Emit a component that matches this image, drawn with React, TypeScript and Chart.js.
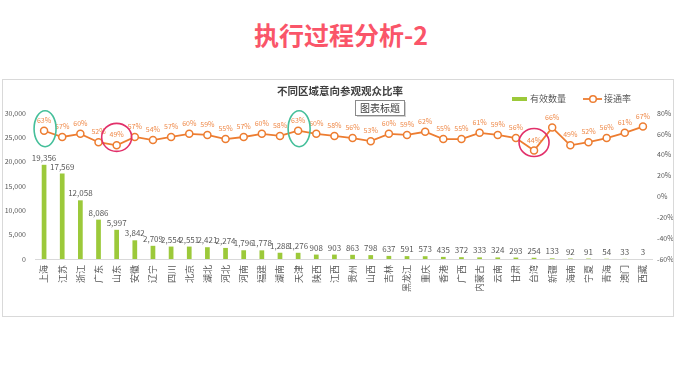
import React, { useEffect, useRef } from "react";
import { Chart, registerables } from "chart.js";

Chart.register(...registerables);

const categories = [
  "上海", "江苏", "浙江", "广东", "山东", "安徽", "辽宁", "四川", "北京", "湖北",
  "河北", "河南", "福建", "湖南", "天津", "陕西", "江西", "贵州", "山西", "吉林",
  "黑龙江", "重庆", "香港", "广西", "内蒙古", "云南", "甘肃", "台湾", "新疆", "海南",
  "宁夏", "青海", "澳门", "西藏",
];

const validCounts = [
  19356, 17569, 12058, 8086, 5997, 3842, 2709, 2554, 2551, 2421,
  2274, 1796, 1778, 1288, 1276, 908, 903, 863, 798, 637,
  591, 573, 435, 372, 333, 324, 293, 254, 133, 92,
  91, 54, 33, 3,
];

const connectRates = [
  63, 57, 60, 52, 49, 57, 54, 57, 60, 59,
  55, 57, 60, 58, 63, 60, 58, 56, 53, 60,
  59, 62, 55, 55, 61, 59, 56, 44, 66, 49,
  52, 56, 61, 67,
];

const seriesNames = ["有效数量", "接通率"];
const pageTitle = "执行过程分析-2";
const chartTitle = "不同区域意向参观观众比率";
const tooltipText = "图表标题";

// highlighted points (index into categories)
const greenMarks = [0, 14];
const pinkMarks = [4, 27];

const FONT = '"Noto Sans CJK SC", "Noto Sans", sans-serif';
const GREEN = "#9CC93A";
const ORANGE = "#ED7D31";
const GREY = "#595959";

const overlayPlugin = {
  id: "overlay",
  afterDatasetsDraw(chart: any) {
    const ctx = chart.ctx as CanvasRenderingContext2D;
    ctx.save();
    // bar value labels
    const barMeta = chart.getDatasetMeta(0);
    ctx.font = `8px ${FONT}`;
    ctx.fillStyle = GREY;
    ctx.textAlign = "center";
    ctx.textBaseline = "bottom";
    barMeta.data.forEach((el: any, i: number) => {
      ctx.fillText(validCounts[i].toLocaleString("en-US"), el.x, el.y - 3);
    });
    // line value labels
    const lineMeta = chart.getDatasetMeta(1);
    ctx.font = `7px ${FONT}`;
    ctx.fillStyle = "#EF8A4A";
    lineMeta.data.forEach((el: any, i: number) => {
      ctx.fillText(connectRates[i] + "%", el.x, el.y - 7);
    });
    // ellipses
    ctx.lineWidth = 1.6;
    ctx.strokeStyle = "#45BF9A";
    greenMarks.forEach((i) => {
      const el = lineMeta.data[i];
      ctx.beginPath();
      ctx.ellipse(el.x + 1, el.y - 2, 11, 18, 0, 0, Math.PI * 2);
      ctx.stroke();
    });
    ctx.strokeStyle = "#E2306A";
    pinkMarks.forEach((i) => {
      const el = lineMeta.data[i];
      ctx.beginPath();
      ctx.ellipse(el.x, el.y - 8, 15, 14, 0, 0, Math.PI * 2);
      ctx.stroke();
    });
    ctx.restore();
  },
  afterDraw(chart: any) {
    const ctx = chart.ctx as CanvasRenderingContext2D;
    ctx.save();
    // chart title
    ctx.font = `bold 10.5px ${FONT}`;
    ctx.fillStyle = "#404040";
    ctx.textAlign = "center";
    ctx.textBaseline = "middle";
    ctx.fillText(chartTitle, 337, 11);
    // tooltip-like box
    const bx = 352, by = 20, bw = 49, bh = 15;
    ctx.fillStyle = "rgba(0,0,0,0.18)";
    ctx.fillRect(bx + 2, by + 2, bw, bh);
    ctx.fillStyle = "#ffffff";
    ctx.fillRect(bx, by, bw, bh);
    ctx.strokeStyle = "#8a8a8a";
    ctx.lineWidth = 1;
    ctx.strokeRect(bx + 0.5, by + 0.5, bw, bh);
    ctx.fillStyle = "#404040";
    ctx.font = `10px ${FONT}`;
    ctx.fillText(tooltipText, bx + bw / 2 + 0.5, by + bh / 2 + 0.5);
    // legend
    ctx.font = `9px ${FONT}`;
    ctx.textAlign = "left";
    ctx.fillStyle = GREEN;
    ctx.fillRect(509, 17, 15, 4);
    ctx.fillStyle = GREY;
    ctx.fillText(seriesNames[0], 527, 19);
    ctx.strokeStyle = ORANGE;
    ctx.lineWidth = 1.8;
    ctx.beginPath();
    ctx.moveTo(580, 19);
    ctx.lineTo(599, 19);
    ctx.stroke();
    ctx.beginPath();
    ctx.arc(590, 19, 3.3, 0, Math.PI * 2);
    ctx.fillStyle = "#ffffff";
    ctx.fill();
    ctx.lineWidth = 1.5;
    ctx.stroke();
    ctx.fillStyle = GREY;
    ctx.fillText(seriesNames[1], 601, 19);
    ctx.restore();
  },
};

function ChartBox() {
  const ref = useRef<HTMLCanvasElement | null>(null);
  useEffect(() => {
    if (!ref.current) return;
    const chart = new Chart(ref.current, {
      type: "bar",
      data: {
        labels: categories,
        datasets: [
          {
            type: "bar",
            label: seriesNames[0],
            data: validCounts,
            backgroundColor: GREEN,
            yAxisID: "y",
            barPercentage: 0.26,
            categoryPercentage: 1,
            order: 2,
          },
          {
            type: "line",
            label: seriesNames[1],
            data: connectRates,
            borderColor: ORANGE,
            borderWidth: 1.8,
            pointRadius: 3.5,
            pointBorderWidth: 1.5,
            pointBackgroundColor: "#ffffff",
            pointBorderColor: ORANGE,
            yAxisID: "y1",
            order: 1,
            tension: 0,
          } as any,
        ],
      },
      options: {
        responsive: false,
        animation: false,
        devicePixelRatio: 1,
        layout: { padding: { top: 33, left: 0, right: 0, bottom: 0 } },
        plugins: {
          legend: { display: false },
          tooltip: { enabled: false },
          title: { display: false },
        },
        scales: {
          x: {
            grid: { display: false, drawTicks: false },
            border: { display: true, color: "#D9D9D9" },
            ticks: {
              autoSkip: false,
              minRotation: 90,
              maxRotation: 90,
              padding: 6,
              color: GREY,
              font: { family: FONT, size: 9 },
            },
            afterFit: (s: any) => {
              s.height = 57;
            },
          },
          y: {
            position: "left",
            min: 0,
            max: 30000,
            grid: { display: false, drawTicks: false },
            border: { display: false },
            ticks: {
              stepSize: 5000,
              padding: 9,
              color: GREY,
              font: { family: FONT, size: 7 },
              callback: (v: any) => Number(v).toLocaleString("en-US"),
            },
            afterFit: (s: any) => {
              s.width = 32;
            },
          },
          y1: {
            position: "right",
            min: -60,
            max: 80,
            grid: { display: false, drawTicks: false },
            border: { display: false },
            ticks: {
              stepSize: 20,
              padding: 5,
              color: GREY,
              font: { family: FONT, size: 7 },
              callback: (v: any) => v + "%",
            },
            afterFit: (s: any) => {
              s.width = 21;
            },
          },
        },
      },
      plugins: [overlayPlugin],
    });
    return () => chart.destroy();
  }, []);
  return <canvas ref={ref} width={670} height={236} style={{ display: "block" }} />;
}

export default function App() {
  return (
    <div
      style={{
        position: "absolute",
        left: 0,
        top: 0,
        width: 680,
        height: 376,
        background: "#ffffff",
        overflow: "hidden",
      }}
    >
      <div
        style={{
          position: "absolute",
          left: 0,
          top: 17,
          width: 682,
          textAlign: "center",
          fontFamily: FONT,
          fontWeight: 700,
          fontSize: 25,
          lineHeight: "34px",
          color: "#FA5569",
        }}
      >
        {pageTitle}
      </div>
      <div
        style={{
          position: "absolute",
          left: 2,
          top: 79,
          width: 670,
          height: 236,
          border: "1px solid #D9D9D9",
        }}
      >
        <ChartBox />
      </div>
    </div>
  );
}
